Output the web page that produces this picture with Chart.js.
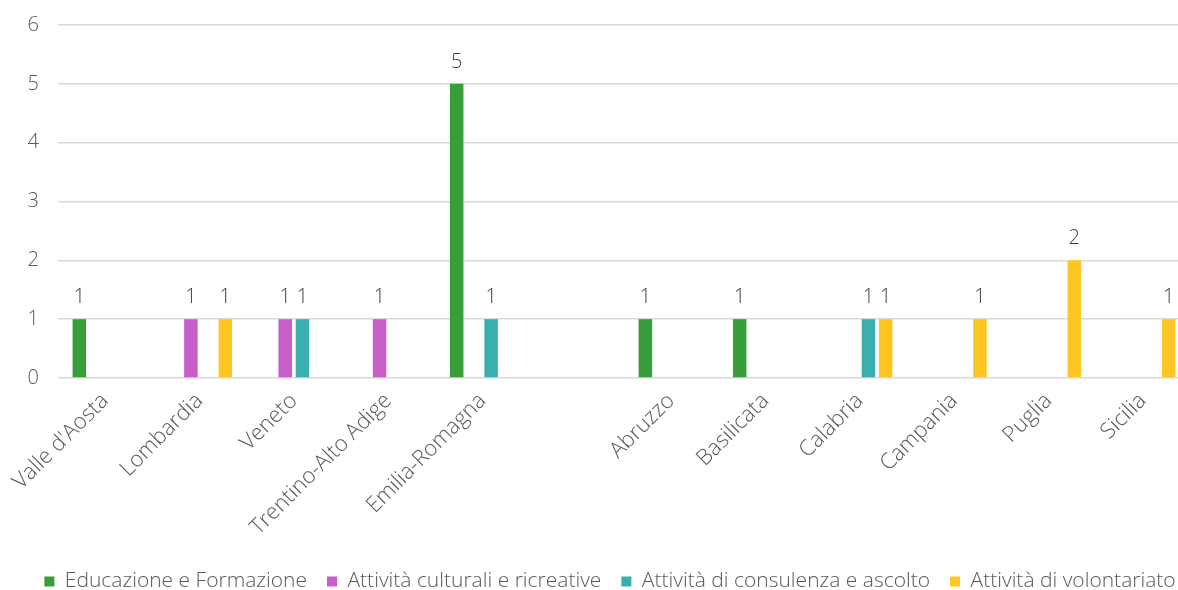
<!DOCTYPE html>
<html>
<head>
<meta charset="utf-8">
<script src="https://cdn.jsdelivr.net/npm/chart.js@4/dist/chart.umd.min.js"></script>
<style>
  html, body { margin: 0; padding: 0; background: #fff; overflow: hidden; }
  #wrap { width: 1220px; height: 590px; }
</style>
</head>
<body>
<div id="wrap"><canvas id="chart" width="1220" height="590"></canvas></div>
<script>
const regions = [
  "Valle d'Aosta", 'Lombardia', 'Veneto', 'Trentino-Alto Adige', 'Emilia-Romagna', '',
  'Abruzzo', 'Basilicata', 'Calabria', 'Campania', 'Puglia', 'Sicilia'
]
const educazione = [1, null, null, null, 5, null, 1, 1, null, null, null, null]
const culturali = [null, 1, 1, 1, null, null, null, null, null, null, null, null]
const consulenza = [null, null, 1, null, 1, null, null, null, 1, null, null, null]
const volontariato = [null, 1, null, null, null, null, null, null, 1, 1, 2, 1]
const yTicks = [0, 1, 2, 3, 4, 5, 6]

const seriesNames = [
  'Educazione e Formazione',
  'Attività culturali e ricreative',
  'Attività di consulenza e ascolto',
  'Attività di volontariato'
]
const seriesColors = ['#389e3a', '#c85ec8', '#3aafaf', '#fec623']

const textColor = '#595959'
const fontFamily = '"Open Sans", "Noto Sans", sans-serif'

// draws the value above each bar
const valueLabels = {
  id: 'valueLabels',
  afterDatasetsDraw(chart) {
    const ctx = chart.ctx
    ctx.save()
    ctx.font = '300 20px ' + fontFamily
    ctx.fillStyle = '#404040'
    ctx.textAlign = 'center'
    ctx.textBaseline = 'alphabetic'
    chart.data.datasets.forEach((ds, i) => {
      const meta = chart.getDatasetMeta(i)
      meta.data.forEach((bar, j) => {
        const v = ds.data[j]
        if (v == null) return
        ctx.fillText(String(v), bar.x, bar.y - 16)
      })
    })
    ctx.restore()
  }
}

// nudge the legend: centre it on the original (wider) chart and push it down
const legendShift = {
  id: 'legendShift',
  afterLayout(chart) {
    const lg = chart.legend
    lg.left += 15
    lg.right += 15
    lg.top += 12
    lg.bottom += 12
  }
}

const datasets = [educazione, culturali, consulenza, volontariato].map((values, i) => ({
  label: seriesNames[i],
  data: values,
  backgroundColor: seriesColors[i],
  borderWidth: 0,
  categoryPercentage: 0.73,
  barPercentage: 0.785
}))

new Chart(document.getElementById('chart').getContext('2d'), {
  type: 'bar',
  data: { labels: regions, datasets: datasets },
  options: {
    responsive: false,
    animation: false,
    layout: { padding: { top: 25, right: 30, left: 0, bottom: 0 } },
    plugins: {
      tooltip: { enabled: false },
      legend: {
        position: 'bottom',
        labels: {
          boxWidth: 10,
          boxHeight: 10,
          padding: 20,
          color: textColor,
          font: { family: fontFamily, size: 21, weight: 300 }
        }
      }
    },
    scales: {
      x: {
        grid: { display: false },
        border: { display: false },
        ticks: {
          color: textColor,
          font: { family: fontFamily, size: 22, weight: 300 },
          maxRotation: 45,
          minRotation: 45,
          autoSkip: false,
          padding: 2
        },
        afterFit(scale) { scale.height = 161 }
      },
      y: {
        min: 0,
        max: 6,
        afterBuildTicks(scale) { scale.ticks = yTicks.map(v => ({ value: v })) },
        grid: { color: '#d9d9d9', lineWidth: 1.5, drawTicks: false },
        border: { display: false },
        ticks: {
          color: textColor,
          font: { family: fontFamily, size: 20, weight: 300 },
          padding: 19
        },
        afterFit(scale) {
          scale.width = 58
          scale.paddingTop = 0
          scale.paddingBottom = 0
        }
      }
    }
  },
  plugins: [valueLabels, legendShift]
})
</script>
</body>
</html>
